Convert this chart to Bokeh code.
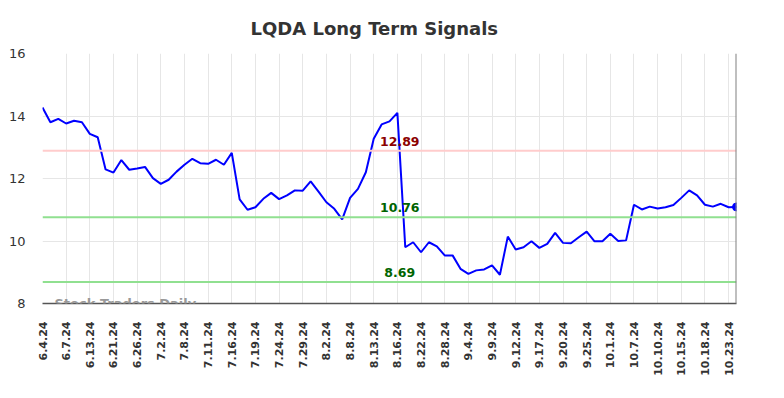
import math
from bokeh.plotting import figure
from bokeh.models import ColumnDataSource, Span, Label, FixedTicker, Title
from bokeh.embed import file_html
from bokeh.resources import INLINE

title_text = "LQDA Long Term Signals"

tick_labels = ["6.4.24", "6.7.24", "6.13.24", "6.21.24", "6.26.24", "7.2.24", "7.8.24",
               "7.11.24", "7.16.24", "7.19.24", "7.24.24", "7.29.24", "8.2.24", "8.8.24",
               "8.13.24", "8.16.24", "8.22.24", "8.28.24", "9.4.24", "9.9.24", "9.12.24",
               "9.17.24", "9.20.24", "9.25.24", "10.1.24", "10.7.24", "10.10.24",
               "10.15.24", "10.18.24", "10.23.24"]
tick_step = 3

prices = [14.27, 13.80, 13.91, 13.76, 13.85, 13.80, 13.43, 13.32, 12.29, 12.19,
          12.59, 12.28, 12.32, 12.37, 12.01, 11.83, 11.96, 12.22, 12.44, 12.63,
          12.49, 12.47, 12.60, 12.44, 12.82, 11.33, 11.00, 11.08, 11.35, 11.54,
          11.34, 11.46, 11.62, 11.61, 11.91, 11.58, 11.24, 11.03, 10.69, 11.38,
          11.67, 12.20, 13.27, 13.73, 13.83, 14.10, 9.80, 9.96, 9.64, 9.96,
          9.83, 9.54, 9.54, 9.11, 8.95, 9.06, 9.09, 9.22, 8.92, 10.14,
          9.73, 9.80, 9.99, 9.78, 9.91, 10.26, 9.94, 9.93, 10.12, 10.30,
          9.99, 9.99, 10.23, 10.00, 10.02, 11.16, 11.01, 11.10, 11.04, 11.08,
          11.15, 11.38, 11.62, 11.46, 11.16, 11.10, 11.19, 11.08, 11.09]

upper_level = 12.89
mid_level = 10.76
lower_level = 8.69
last_time = "16:00"

y_min, y_max = 8, 16
y_ticks = [8, 10, 12, 14, 16]

xs = list(range(len(prices)))
n = len(prices)

p = figure(frame_width=694, frame_height=250, output_backend="svg", toolbar_location=None,
           x_range=(0, n - 1), y_range=(y_min, y_max),
           min_border_left=42, min_border_right=40, min_border_top=53, min_border_bottom=87)
p.outline_line_color = None
p.background_fill_color = "white"
p.border_fill_color = "white"

p.title = Title(text=title_text, align="left", offset=208, standoff=30, text_font="DejaVu Sans",
                text_font_size="18px", text_font_style="bold", text_color="#333333")

# grids
p.xgrid.grid_line_color = "#e6e6e6"
p.ygrid.grid_line_color = "#e6e6e6"
p.xgrid.grid_line_width = 1
p.ygrid.grid_line_width = 1

tick_pos = [i * tick_step for i in range(len(tick_labels))]
p.xaxis.ticker = FixedTicker(ticks=tick_pos)
p.xaxis.major_label_overrides = {tp: lab for tp, lab in zip(tick_pos, tick_labels)}
p.xaxis.major_label_orientation = math.pi / 2
p.xaxis.major_label_text_font = "DejaVu Sans"
p.xaxis.major_label_text_font_style = "bold"
p.xaxis.major_label_text_font_size = "11px"
p.xaxis.major_label_text_color = "#333333"
p.xaxis.major_tick_line_color = None
p.xaxis.major_tick_out = 0
p.xaxis.major_tick_in = 0
p.xaxis.minor_tick_line_color = None
p.xaxis.major_label_standoff = 18
p.xaxis.axis_line_color = "#555555"
p.xaxis.axis_line_width = 1.5

p.yaxis.ticker = FixedTicker(ticks=y_ticks)
p.yaxis.major_label_text_font = "DejaVu Sans"
p.yaxis.major_label_text_font_size = "13px"
p.yaxis.major_label_text_color = "#333333"
p.yaxis.major_tick_line_color = None
p.yaxis.major_tick_out = 0
p.yaxis.major_tick_in = 0
p.yaxis.minor_tick_line_color = None
p.yaxis.axis_line_color = None
p.yaxis.major_label_standoff = 17

# level lines
p.add_layout(Span(location=upper_level, dimension="width", line_color="#ffcccc", line_width=2))
p.add_layout(Span(location=mid_level, dimension="width", line_color="#90e090", line_width=2))
p.add_layout(Span(location=lower_level, dimension="width", line_color="#90e090", line_width=2))
p.add_layout(Span(location=n - 1, dimension="height", line_color="#808080", line_width=2))

src = ColumnDataSource(dict(x=xs, y=prices))
p.line("x", "y", source=src, line_color="#0000ff", line_width=2)
p.scatter([xs[-1]], [prices[-1]], size=8, color="#0000ff")

label_x = 45.3
for lvl, col in [(upper_level, "#8b0000"), (mid_level, "#006400"), (lower_level, "#006400")]:
    p.add_layout(Label(x=label_x, y=lvl, text=f"{lvl:.2f}", text_align="center",
                       y_offset=5, text_font="DejaVu Sans", text_font_size="12.5px",
                       text_font_style="bold", text_color=col))

p.add_layout(Label(x=xs[-1], y=prices[-1], text=last_time, text_align="left",
                   y_offset=23, x_offset=0, text_baseline="middle",
                   text_font="DejaVu Sans", text_font_size="10.5px",
                   text_font_style="bold", text_color="#000000"))
p.add_layout(Label(x=xs[-1], y=prices[-1], text=f"{prices[-1]:.2f}", text_align="left",
                   y_offset=10, x_offset=0, text_baseline="middle",
                   text_font="DejaVu Sans", text_font_size="10.5px",
                   text_font_style="bold", text_color="#0000ff"))

p.add_layout(Label(x=12, y=0, x_units="screen", y_units="screen", text="Stock Traders Daily",
                   text_baseline="middle", text_font="DejaVu Sans", text_font_size="13px",
                   text_font_style="bold", text_color="#999999", level="overlay"))

open("out.html", "w").write(file_html(p, INLINE))
